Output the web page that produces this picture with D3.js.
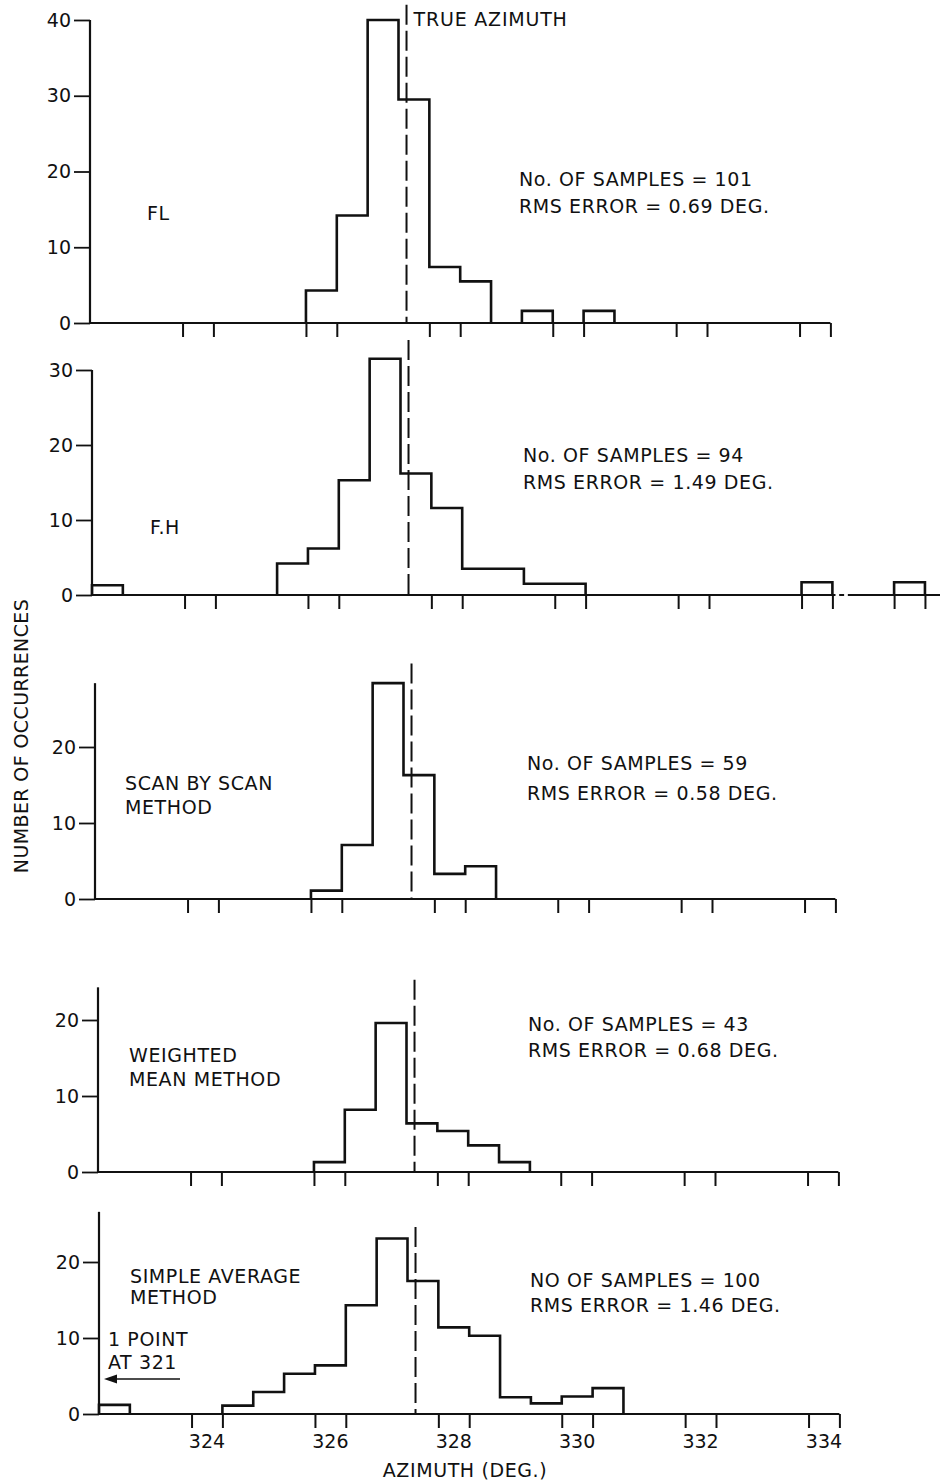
<!DOCTYPE html>
<html><head><meta charset="utf-8">
<script src="https://cdn.jsdelivr.net/npm/d3@7"></script>
<style>
body{margin:0;background:#fff;}
text{font-family:"DejaVu Sans",sans-serif;fill:#111;}
</style></head>
<body><svg id="chart" width="940" height="1483"></svg>
<script>
// ---------------- DATA ----------------
const trueAzimuth = 327.38;
const binWidth = 0.5;

const flStarts = [325.75, 326.25, 326.75, 327.25, 327.75, 328.25, 329.25, 330.25];
const flCounts = [4.3, 14.2, 40, 29.5, 7.4, 5.5, 1.6, 1.6];

const fhStarts = [322.25, 325.25, 325.75, 326.25, 326.75, 327.25, 327.75, 328.25, 328.75, 329.25, 329.75, 333.75, 335.25];
const fhCounts = [1.3, 4.2, 6.2, 15.3, 31.5, 16.2, 11.6, 3.5, 3.5, 1.5, 1.5, 1.7, 1.7];

const scanStarts = [325.75, 326.25, 326.75, 327.25, 327.75, 328.25];
const scanCounts = [1.1, 7.1, 28.4, 16.3, 3.3, 4.3];

const wmStarts = [325.75, 326.25, 326.75, 327.25, 327.75, 328.25, 328.75];
const wmCounts = [1.3, 8.2, 19.6, 6.4, 5.4, 3.5, 1.3];

const saStarts = [322.25, 324.25, 324.75, 325.25, 325.75, 326.25, 326.75, 327.25, 327.75, 328.25, 328.75, 329.25, 329.75, 330.25];
const saCounts = [1.2, 1.1, 2.9, 5.3, 6.4, 14.3, 23.1, 17.5, 11.4, 10.3, 2.2, 1.4, 2.3, 3.4];

const xTickPositions = [323.75, 324.25, 325.75, 326.25, 327.75, 328.25, 329.75, 330.25, 331.75, 332.25, 333.75, 334.25];
const fhExtraTicks = [335.25, 335.75];
const xTickLabels = [324, 326, 328, 330, 332, 334];

const flYTicks = [0, 10, 20, 30, 40];
const fhYTicks = [0, 10, 20, 30];
const lowYTicks = [0, 10, 20];

// ---------------- LAYOUT ----------------
const svg = d3.select("#chart");
const pxPerDeg = 61.7;
const dom0 = 322.25, dom1 = 334.25;

const panels = [
  {starts: flStarts, counts: flCounts, yTicks: flYTicks, yTop: 40, origin: 90, base: 323, unit: 7.575, azTop: 42,
   label: ["FL"], labelPos: [147, 220], stats: ["No. OF SAMPLES = 101", "RMS ERROR = 0.69 DEG."], statsPos: [519, 186, 213]},
  {starts: fhStarts, counts: fhCounts, yTicks: fhYTicks, yTop: 30, origin: 92, base: 595, unit: 7.5, azTop: 34,
   label: ["F.H"], labelPos: [150, 534], stats: ["No. OF SAMPLES = 94", "RMS ERROR = 1.49 DEG."], statsPos: [523, 462, 489], extended: true},
  {starts: scanStarts, counts: scanCounts, yTicks: lowYTicks, yTop: 28.4, origin: 95, base: 899, unit: 7.6, azTop: 31,
   label: ["SCAN BY SCAN", "METHOD"], labelPos: [125, 790, 814], stats: ["No. OF SAMPLES = 59", "RMS ERROR = 0.58 DEG."], statsPos: [527, 770, 800]},
  {starts: wmStarts, counts: wmCounts, yTicks: lowYTicks, yTop: 24.3, origin: 98, base: 1172, unit: 7.6, azTop: 25.3,
   label: ["WEIGHTED", "MEAN METHOD"], labelPos: [129, 1062, 1086], stats: ["No. OF SAMPLES = 43", "RMS ERROR = 0.68 DEG."], statsPos: [528, 1031, 1057]},
  {starts: saStarts, counts: saCounts, yTicks: lowYTicks, yTop: 26.6, origin: 99, base: 1414, unit: 7.6, azTop: 24.6,
   label: ["SIMPLE AVERAGE", "METHOD"], labelPos: [130, 1283, 1304], stats: ["NO OF SAMPLES = 100", "RMS ERROR = 1.46 DEG."], statsPos: [530, 1287, 1312], bottom: true}
];

const FS = 19;

panels.forEach((p, i) => {
  const g = svg.append("g");
  const x = d3.scaleLinear().domain([dom0, dom1]).range([p.origin, p.origin + (dom1 - dom0) * pxPerDeg]);
  const y = d3.scaleLinear().domain([0, 40]).range([p.base, p.base - 40 * p.unit]);

  // y axis
  const yAxis = d3.axisLeft(y).tickValues(p.yTicks).tickSize(16).tickSizeOuter(0).tickPadding(3);
  const ya = g.append("g").attr("transform", `translate(${x(dom0)},0)`).call(yAxis);
  ya.select(".domain").remove();
  ya.selectAll(".tick line").attr("stroke", "#111").attr("stroke-width", 1.8);
  ya.selectAll(".tick text").attr("font-size", FS).attr("fill", "#111").style("font-family", "DejaVu Sans");
  g.append("line").attr("x1", x(dom0)).attr("x2", x(dom0)).attr("y1", y(0)).attr("y2", y(p.yTop))
    .attr("stroke", "#111").attr("stroke-width", 2.2);

  // x axis (ticks below baseline)
  const ticks = p.extended ? xTickPositions.concat(fhExtraTicks) : xTickPositions;
  const xAxis = d3.axisBottom(x).tickValues(ticks).tickSize(14).tickSizeOuter(0).tickFormat("");
  const xa = g.append("g").attr("transform", `translate(0,${y(0)})`).call(xAxis);
  xa.select(".domain").remove();
  xa.selectAll(".tick line").attr("stroke", "#111").attr("stroke-width", 2);

  // baseline
  const seg = (a, b) => g.append("line").attr("x1", x(a)).attr("x2", x(b)).attr("y1", y(0)).attr("y2", y(0))
      .attr("stroke", "#111").attr("stroke-width", 2);
  if (p.extended) {
    seg(dom0, 334.3);
    seg(334.36, 334.44);
    seg(334.5, 336.0);
  } else {
    seg(dom0, dom1);
  }

  // histogram outline: contiguous runs
  const runs = [];
  p.starts.forEach((s, k) => {
    const last = runs[runs.length - 1];
    if (last && Math.abs(last[last.length - 1].s + binWidth - s) < 1e-6) last.push({s, c: p.counts[k]});
    else runs.push([{s, c: p.counts[k]}]);
  });
  const line = d3.line().x(d => x(d[0])).y(d => y(d[1]));
  runs.forEach(run => {
    const pts = [[run[0].s, 0]];
    run.forEach(b => { pts.push([b.s, b.c]); pts.push([b.s + binWidth, b.c]); });
    pts.push([run[run.length - 1].s + binWidth, 0]);
    g.append("path").attr("d", line(pts)).attr("fill", "none").attr("stroke", "#111")
      .attr("stroke-width", 2.6).attr("stroke-linejoin", "miter");
  });

  // true azimuth dashed line
  g.append("line").attr("x1", x(trueAzimuth)).attr("x2", x(trueAzimuth))
    .attr("y1", y(p.azTop)).attr("y2", y(0))
    .attr("stroke", "#111").attr("stroke-width", 2).attr("stroke-dasharray", "20,6");

  // panel labels
  p.label.forEach((t, k) => {
    g.append("text").attr("x", p.labelPos[0]).attr("y", p.labelPos[1 + k]).attr("font-size", FS)
      .attr("letter-spacing", 0.6).text(t);
  });
  p.stats.forEach((t, k) => {
    g.append("text").attr("x", p.statsPos[0]).attr("y", p.statsPos[1 + k]).attr("font-size", FS)
      .attr("letter-spacing", 0.6).text(t);
  });

  if (i === 0) {
    g.append("text").attr("x", x(trueAzimuth) + 7).attr("y", 26).attr("font-size", FS)
      .attr("letter-spacing", 0.8).text("TRUE AZIMUTH");
  }

  if (p.bottom) {
    g.selectAll(".xlab").data(xTickLabels).join("text").attr("class", "xlab")
      .attr("x", d => x(d)).attr("y", 1448).attr("text-anchor", "middle").attr("font-size", FS).text(d => d);
    g.append("text").attr("x", 465).attr("y", 1477).attr("text-anchor", "middle").attr("font-size", FS)
      .attr("letter-spacing", 0.6).text("AZIMUTH (DEG.)");
    // note about outlier
    g.append("text").attr("x", 108).attr("y", 1346).attr("font-size", FS).attr("letter-spacing", 0.6).text("1 POINT");
    g.append("text").attr("x", 108).attr("y", 1369).attr("font-size", FS).attr("letter-spacing", 0.6).text("AT 321");
    g.append("line").attr("x1", 180).attr("x2", 114).attr("y1", 1379).attr("y2", 1379)
      .attr("stroke", "#111").attr("stroke-width", 1.5);
    g.append("path").attr("d", "M104,1379 L117,1374.5 L117,1383.5 Z").attr("fill", "#111");
  }
});

// y axis title
svg.append("text").attr("transform", "translate(28,736) rotate(-90)").attr("text-anchor", "middle")
  .attr("font-size", 19).attr("letter-spacing", 0.4).text("NUMBER OF OCCURRENCES");
</script>
</body></html>
